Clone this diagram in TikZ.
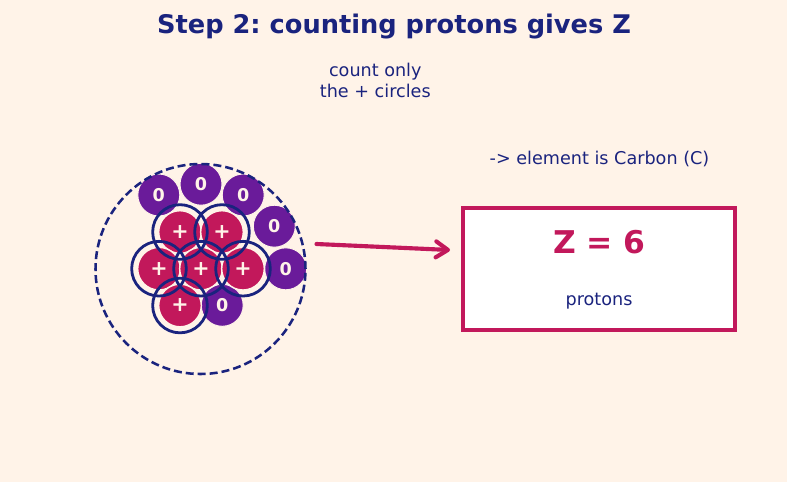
\documentclass[tikz,border=0pt]{standalone}
\usepackage{fontspec}
\setmainfont{DejaVu Sans}
\frenchspacing
\usetikzlibrary{arrows.meta}
\definecolor{paper}{HTML}{FFF3E8}
\definecolor{navy}{HTML}{1A237E}
\definecolor{rose}{HTML}{C2185B}
\definecolor{violet}{HTML}{6A1B9A}
\tikzset{
  x=0.75pt, y=-0.75pt,
  neutron/.style={circle,fill=violet,draw=paper,line width=0.75pt,minimum size=31.5pt,inner sep=0pt,text=paper,font=\bfseries\fontsize{13.2}{15}\selectfont},
  proton/.style={circle,fill=rose,draw=paper,line width=1.1pt,minimum size=32pt,inner sep=0pt,text=paper,font=\bfseries\fontsize{15.5}{17}\selectfont},
  ring/.style={circle,draw=navy,line width=2.1pt,minimum size=41pt,inner sep=0pt},
  shell/.style={circle,draw=navy,line width=1.9pt,dash pattern=on 6pt off 3pt,minimum size=157.5pt,inner sep=0pt},
  caption/.style={text=navy,font=\fontsize{13.2}{15.4}\selectfont,align=center},
}
\begin{document}
\begin{tikzpicture}
\useasboundingbox (0,0) rectangle (787,482);
\fill[paper] (0,0) rectangle (787,482);
% neutrons
\foreach \n/\px/\py in {n1/158.8/195,n2/201/184.2,n3/243.2/195,n4/274.3/226.2,n5/285.7/268.8,n6/222.2/305.3}
  \node[neutron] (\n) at (\px,\py) {\raisebox{-0.5pt}{0}};
% protons
\foreach \n/\px/\py in {p1/180/232,p2/222/232,p3/159/268.7,p4/201/268.7,p5/243/268.7,p6/180/305.5}
  \node[proton] (\n) at (\px,\py) {+};
% counting rings around the protons
\foreach \n in {p1,p2,p3,p4,p5,p6}
  \node[ring] at (\n.center) {};
% nucleus outline
\node[shell] (nucleus) at (200.5,269) {};
% headings
\node[text=navy,font=\bfseries\fontsize{19.25}{22}\selectfont] (title) at (394,27) {Step 2: counting protons gives Z};
\node[caption] (hint) at (375.3,80.3) {count only\\the + circles};
\node[caption] (element) at (599.5,159.3) {-> element is Carbon (C)};
% result box
\node[draw=rose,fill=white,line width=3pt,minimum width=203.5pt,minimum height=91.5pt,inner sep=0pt] (result) at (599,269) {};
\node[text=rose,font=\bfseries\fontsize{23.5}{27}\selectfont] (zvalue) at (599.3,242.5) {Z = 6};
\node[caption] (unit) at (599,301) {protons};
% arrow to the result
\coordinate (from) at (316.5,244);
\coordinate (to) at (450,250);
\draw[rose,line width=3.1pt,line cap=round,-{Straight Barb[length=9pt,width=12pt,line cap=round,line join=round]}] (from) -- (to);
\end{tikzpicture}
\end{document}
